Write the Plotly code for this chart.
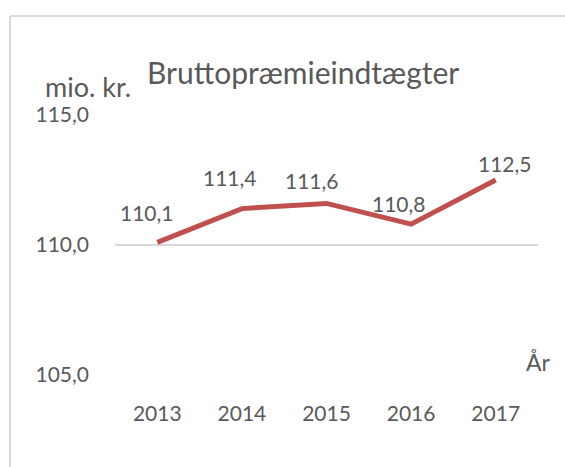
import plotly.graph_objects as go

years = ["2013", "2014", "2015", "2016", "2017"]
premium = [110.1, 111.4, 111.6, 110.8, 112.5]
y_ticks = [105.0, 110.0, 115.0]
y_tick_labels = ["105,0", "110,0", "115,0"]
title_text = "Bruttopræmieindtægter"
y_unit = "mio. kr."
x_unit = "År"

# label offsets (pixels) - styling only
label_dx = [-10, -12, -15, -12, 9]
label_dy = [30, 31, 23, 21, 17]

TXT = "#595959"
FONT = "Lato"

fig = go.Figure()
fig.add_trace(go.Scatter(
    x=years, y=premium, mode="lines",
    line=dict(color="#C0504D", width=5),
    hoverinfo="skip", showlegend=False,
))

annotations = []
for i, (yv, dx, dy) in enumerate(zip(premium, label_dx, label_dy)):
    annotations.append(dict(
        x=i, y=yv, xref="x", yref="y",
        text=f"{yv:.1f}".replace(".", ","),
        showarrow=False, xanchor="center", yanchor="middle",
        xshift=dx, yshift=dy,
        font=dict(family=FONT, size=21, color=TXT),
    ))

L, R, T, B = 115, 27, 115, 92
W, H = 565, 467
pw, ph = W - L - R, H - T - B

def px(xp):
    return (xp - L) / pw

def py(yp):
    return (H - B - yp) / ph

annotations.append(dict(
    x=px(145), y=py(72), xref="paper", yref="paper", text=title_text,
    showarrow=False, xanchor="left", yanchor="middle",
    font=dict(family=FONT, size=30, color=TXT),
))
annotations.append(dict(
    x=px(88), y=py(87), xref="paper", yref="paper", text=y_unit,
    showarrow=False, xanchor="center", yanchor="middle",
    font=dict(family=FONT, size=27, color=TXT),
))
annotations.append(dict(
    x=px(553), y=py(362), xref="paper", yref="paper", text=x_unit,
    showarrow=False, xanchor="right", yanchor="middle",
    font=dict(family=FONT, size=23, color=TXT),
))

fig.update_layout(
    width=W, height=H,
    margin=dict(l=L, r=R, t=T, b=B),
    paper_bgcolor="white", plot_bgcolor="white",
    annotations=annotations,
    shapes=[
        # top border of chart frame
        dict(type="line", xref="paper", yref="paper",
             xsizemode="pixel", ysizemode="pixel", xanchor=0, yanchor=1,
             x0=10 - L, x1=W + 300 - L, y0=T - 16, y1=T - 16,
             line=dict(color="#D9D9D9", width=2), layer="below"),
        # left border of chart frame
        dict(type="line", xref="paper", yref="paper",
             xsizemode="pixel", ysizemode="pixel", xanchor=0, yanchor=1,
             x0=10 - L, x1=10 - L, y0=T - 16, y1=-H - 300,
             line=dict(color="#D9D9D9", width=2), layer="below"),
    ],
    xaxis=dict(
        type="category", range=[-0.5, 4.5],
        showgrid=False, zeroline=False, showline=False, ticks="",
        tickfont=dict(family=FONT, size=21, color=TXT),
        ticklabelstandoff=24,
    ),
    yaxis=dict(
        range=[105, 115], tickvals=y_ticks, ticktext=y_tick_labels,
        showgrid=True, gridcolor="#D9D9D9", gridwidth=1.5,
        zeroline=False, showline=False, ticks="",
        tickfont=dict(family=FONT, size=21, color=TXT),
        ticklabelstandoff=25,
    ),
)

fig.write_html(
    "out.html",
    config={"displayModeBar": False, "staticPlot": True},
    post_script=(
        "document.documentElement.style.margin='0';"
        "document.documentElement.style.padding='0';"
        "document.documentElement.style.overflow='hidden';"
        "document.body.style.margin='0';"
        "document.body.style.padding='0';"
        "document.body.style.overflow='hidden';"
    ),
)
